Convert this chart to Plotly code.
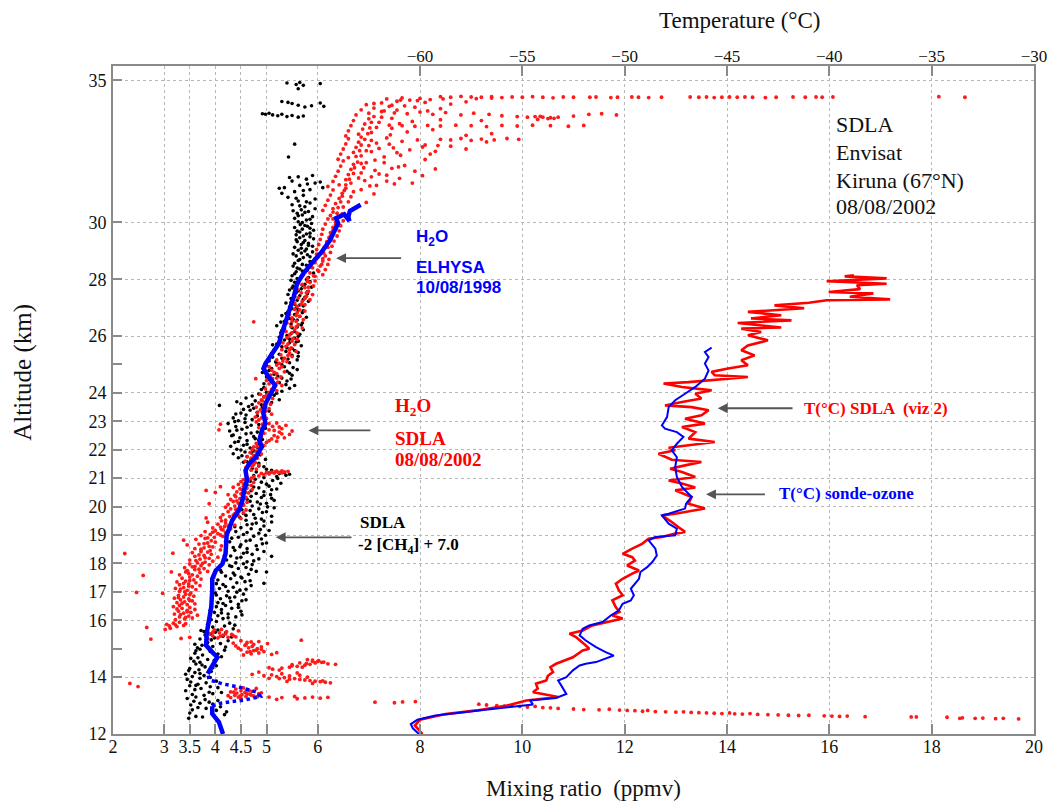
import plotly.graph_objects as go

# ---------------- data ----------------
# ELHYSA H2O 10/08/1998 : (altitude km, mixing ratio ppmv)
elhysa = [(12.0,4.15),(12.42,4.07),(12.71,3.94),(12.98,3.94),(13.07,4.07),(13.14,4.33),(13.2,4.59),(13.32,4.88),
          (13.47,4.82),(13.65,4.46),(13.77,4.13),(13.91,3.88),(14.12,3.85),(14.41,3.94),(14.70,4.04),(14.88,3.94),
          (15.12,3.82),(15.53,3.83),(16.0,3.88),(16.46,3.92),(17.05,3.94),(17.46,3.94),(17.75,4.01),(17.99,4.14),
          (18.34,4.20),(18.69,4.21),(19.0,4.22),(19.22,4.27),(19.52,4.33),(19.87,4.46),(20.22,4.53),(20.57,4.56),
          (20.93,4.62),(21.27,4.59),(21.5,4.66),(21.74,4.79),(22.1,4.91),(22.33,4.86),(22.68,4.91),(22.92,4.98),
          (23.27,4.94),(23.62,4.98),(23.97,5.07),(24.27,5.17),(24.56,5.04),(24.86,4.94),(25.03,4.98),(25.38,5.11),
          (25.73,5.24),(26.09,5.30),(26.49,5.37),(26.91,5.46),(27.37,5.53),(27.85,5.60),(28.2,5.72),(28.55,5.88),
          (28.96,6.08),(29.37,6.24),(29.72,6.34),(29.96,6.40),(30.15,6.36),(30.28,6.52),(30.05,6.62),(30.2,6.60),
          (30.4,6.63),(30.55,6.75),(30.62,6.84)]
# the profile is drawn with sparse dots between these two indices (13.0-13.95 km)
elhysa_gap = (3, 12)

# Temperature sonde-ozone : (altitude km, T degC)
t_sonde = [(12.0,-60.05),(12.2,-60.35),(12.35,-60.45),(12.5,-60.13),(12.65,-59.25),(12.83,-57.23),(12.92,-55.93),
           (13.04,-54.48),(13.18,-54.63),(13.27,-53.35),(13.41,-52.85),(13.71,-53.1),(13.88,-53.25),(14.0,-52.85),
           (14.24,-52.53),(14.41,-52.2),(14.47,-51.9),(14.53,-51.4),(14.76,-50.53),(14.88,-50.93),(15.06,-51.4),
           (15.29,-51.9),(15.47,-52.2),(15.70,-52.05),(15.82,-51.73),(15.94,-51.08),(16.17,-50.68),(16.35,-50.28),
           (16.58,-50.1),(16.70,-49.7),(16.88,-49.55),(17.11,-49.7),(17.46,-49.3),(17.70,-49.23),(17.87,-48.9),
           (18.05,-48.65),(18.28,-48.43),(18.52,-48.5),(18.81,-48.83),(18.93,-48.5),(18.99,-47.53),(19.22,-47.45),
           (19.40,-47.85),(19.69,-48.18),(19.75,-47.85),(19.93,-47.05),(20.1,-47.0),(20.34,-46.73),(20.69,-47.2),
           (21.04,-47.45),(21.39,-47.53),(21.74,-47.45),(21.98,-47.7),(22.21,-47.45),(22.45,-47.13),(22.62,-47.45),
           (22.74,-48.03),(22.86,-48.18),(23.15,-47.93),(23.50,-47.85),(23.74,-47.53),(23.97,-47.05),(24.21,-46.55),
           (24.50,-46.08),(24.79,-45.9),(25.03,-46.08),(25.26,-45.9),(25.44,-46.08),(25.59,-45.75)]

# Temperature SDLA (viz 2) : (altitude km, T degC)
t_sdla = [(12.0,-59.88),(12.3,-60.25),(12.5,-60.0),(12.7,-58.75),(12.83,-57.23),(13.0,-55.75),(13.18,-54.8),
          (13.30,-53.25),(13.41,-54.0),(13.47,-54.48),(13.6,-54.25),(13.77,-54.33),(13.88,-53.83),(14.05,-53.75),
          (14.18,-53.5),(14.35,-53.63),(14.47,-53.35),(14.59,-52.95),(14.70,-52.53),(14.94,-52.05),(15.0,-51.73),
          (15.17,-51.98),(15.41,-52.38),(15.53,-52.7),(15.64,-52.05),(15.82,-51.58),(15.94,-50.75),(16.06,-50.1),
          (16.17,-50.6),(16.3,-50.25),(16.46,-50.43),(16.70,-50.6),(16.88,-50.1),(17.05,-50.28),(17.29,-50.43),
          (17.46,-50.1),(17.64,-49.63),(17.75,-49.3),(17.93,-49.88),(18.1,-49.5),(18.22,-49.63),(18.34,-50.1),
          (18.52,-49.63),(18.69,-49.15),(18.87,-48.83),(18.93,-48.18),(19.05,-47.53),(19.11,-47.05),(19.28,-47.38),
          (19.46,-47.7),(19.69,-48.18),(19.75,-47.53),(19.93,-46.08),(20.10,-46.88),(20.34,-46.73),(20.57,-47.53),
          (20.67,-46.55),(20.81,-47.2),(20.92,-47.85),(21.04,-46.55),(21.22,-47.2),(21.33,-47.78),(21.45,-47.05),
          (21.57,-46.25),(21.65,-47.7),(21.86,-48.35),(21.98,-47.53),(22.07,-47.85),(22.27,-45.6),(22.39,-46.88),
          (22.62,-46.55),(22.80,-47.2),(22.92,-46.08),(23.09,-47.05),(23.21,-46.25),(23.39,-45.9),(23.50,-46.73),
          (23.56,-48.03),(23.68,-47.2),(23.80,-46.25),(23.97,-46.55),(24.09,-45.75),(24.21,-47.2),(24.33,-48.1),
          (24.38,-46.88),(24.44,-45.9),(24.56,-43.98),(24.62,-45.6),(24.74,-45.75),(24.86,-44.95),(24.97,-43.98),
          (25.15,-44.3),(25.32,-43.65),(25.50,-44.3),(25.67,-43.98),(25.85,-43.0),(26.03,-43.98),(26.14,-43.33),
          (26.26,-44.3),(26.3,-42.35),(26.38,-43.5),(26.46,-44.48),(26.55,-41.85),(26.62,-43.83),(26.73,-42.35),
          (26.85,-43.98),(26.98,-41.23),(27.08,-42.68),(27.17,-41.0),(27.26,-40.13),(27.29,-37.03),(27.38,-39.0),
          (27.5,-37.85),(27.55,-40.03),(27.65,-38.5),(27.79,-38.65),(27.84,-37.2),(27.93,-40.13),(28.03,-37.2),
          (28.1,-39.25),(28.14,-38.8)]

# SDLA -2[CH4]+7.0 : (altitude km, ppmv)
ch4_pts = [
 (12.55,3.48),(12.62,3.62),(12.7,3.95),(12.78,4.22),(12.85,3.55),(12.9,3.82),(12.96,4.1),(12.68,4.18),
 (13.02,3.52),(13.08,3.7),(13.12,3.88),(13.18,4.05),(13.25,3.45),(13.3,3.62),(13.36,3.78),(13.42,3.95),(13.46,4.12),(13.15,3.58),
 (13.52,3.42),(13.56,3.6),(13.6,3.72),(13.66,3.9),(13.7,3.5),(13.75,3.66),(13.8,3.82),(13.86,4.02),(13.92,3.45),(13.96,3.7),
 (14.02,3.55),(14.06,3.78),(14.1,3.42),(14.16,3.6),(14.2,3.92),(14.26,3.68),(14.3,3.5),(14.36,3.8),(14.4,4.02),(14.46,3.62),
 (14.52,3.7),(14.56,3.58),(14.62,3.85),(14.68,3.66),(14.72,4.12),(14.78,3.75),(14.84,3.6),(14.9,3.9),(14.95,4.18),(14.98,3.7),
 (15.03,3.65),(15.08,3.95),(15.12,3.74),(15.18,4.1),(15.22,3.85),(15.28,4.25),(15.34,3.7),(15.38,3.98),(15.44,4.15),(15.48,3.8),
 (15.52,3.9),(15.56,4.2),(15.6,3.78),(15.66,4.05),(15.7,4.35),(15.76,3.95),(15.8,4.18),(15.86,3.85),(15.9,4.28),(15.96,4.02),
 (16.02,3.92),(16.06,4.15),(16.12,4.4),(16.16,4.05),(16.22,4.25),(16.28,3.98),(16.32,4.5),(16.38,4.12),(16.42,4.32),(16.48,4.02),
 (16.52,4.2),(16.56,4.45),(16.62,4.05),(16.66,4.3),(16.72,4.6),(16.76,4.1),(16.82,4.38),(16.86,4.22),(16.92,4.55),(16.96,4.0),
 (17.02,4.25),(17.06,4.48),(17.12,4.08),(17.16,4.35),(17.22,4.7),(17.26,4.15),(17.32,4.42),(17.36,4.58),(17.42,4.05),(17.46,4.3),(17.3,4.95),
 (17.52,4.5),(17.56,4.2),(17.62,4.65),(17.66,4.35),(17.72,4.8),(17.76,4.1),(17.82,4.45),(17.86,4.6),(17.92,4.28),(17.96,4.72),(17.7,5.0),
 (18.02,4.4),(18.06,4.62),(18.12,4.22),(18.16,4.85),(18.22,4.5),(18.26,4.3),(18.32,4.72),(18.36,4.55),(18.42,4.95),(18.46,4.38),(18.25,5.1),
 (18.52,4.62),(18.56,4.35),(18.62,4.8),(18.66,4.5),(18.72,5.0),(18.76,4.28),(18.82,4.68),(18.86,4.9),(18.92,4.45),(18.96,4.75),
 (19.02,4.55),(19.06,4.85),(19.12,4.4),(19.16,5.05),(19.22,4.7),(19.26,4.5),(19.32,4.95),(19.36,4.62),(19.42,4.8),(19.46,5.1),
 (19.52,4.6),(19.56,4.9),(19.62,4.48),(19.66,5.1),(19.72,4.75),(19.76,4.55),(19.82,5.0),(19.86,4.68),(19.92,4.85),(19.96,5.15),
 (20.02,4.72),(20.06,4.55),(20.12,5.0),(20.16,4.82),(20.22,5.15),(20.26,4.62),(20.32,4.9),(20.36,4.7),(20.42,5.08),(20.46,4.8),
 (20.52,4.95),(20.56,4.7),(20.62,5.2),(20.66,4.85),(20.72,5.05),(20.76,4.62),(20.82,5.28),(20.86,4.9),(20.92,5.12),(20.96,4.78),
 (21.02,4.95),(21.06,5.2),(21.1,5.38),(21.14,5.45),(21.16,5.25),(21.18,5.05),(21.22,4.8),(21.28,5.1),(21.34,4.72),(21.4,4.95),(21.46,4.65),
 (21.52,4.85),(21.56,4.55),(21.62,4.7),(21.66,4.98),(21.72,4.45),(21.76,4.62),(21.82,4.88),(21.86,4.35),(21.92,4.58),(21.96,4.75),
 (22.02,4.42),(22.06,4.68),(22.12,4.3),(22.16,4.55),(22.22,4.85),(22.26,4.38),(22.32,4.62),(22.36,4.92),(22.42,4.48),(22.46,4.75),
 (22.52,4.35),(22.56,4.6),(22.62,4.82),(22.66,4.28),(22.72,4.52),(22.76,4.98),(22.82,4.4),(22.86,4.7),(22.92,4.25),(22.96,4.58),
 (23.02,4.45),(23.06,4.72),(23.12,4.35),(23.16,4.95),(23.22,4.6),(23.26,4.4),(23.32,4.82),(23.36,5.05),(23.42,4.55),(23.46,4.75),(23.56,4.08),
 (23.52,4.65),(23.58,4.9),(23.62,4.5),(23.66,5.1),(23.72,4.78),(23.76,5.25),(23.82,4.6),(23.86,4.95),(23.92,5.15),(23.96,4.85),
 (24.02,5.0),(24.06,5.3),(24.12,4.9),(24.16,5.45),(24.22,5.15),(24.26,5.55),(24.32,4.95),(24.36,5.25),(24.42,5.4),(24.46,5.05),
 (24.52,5.3),(24.56,5.0),(24.62,5.5),(24.66,5.15),(24.72,4.92),(24.76,5.4),(24.82,5.6),(24.86,5.1),(24.92,5.35),(24.96,5.0),
 (25.02,5.2),(25.06,5.45),(25.12,5.05),(25.16,5.6),(25.22,5.3),(25.26,5.12),(25.32,5.5),(25.36,5.25),(25.42,5.62),(25.46,5.38),
 (25.52,5.15),(25.56,5.5),(25.62,5.3),(25.66,5.68),(25.72,5.2),(25.76,5.45),(25.82,5.62),(25.86,5.35),(25.92,5.55),(25.96,5.25),
 (26.02,5.4),(26.06,5.65),(26.12,5.28),(26.16,5.55),(26.22,5.72),(26.26,5.35),(26.32,5.6),(26.36,5.2),(26.42,5.48),(26.46,5.7),
 (26.52,5.35),(26.56,5.6),(26.62,5.45),(26.66,5.78),(26.72,5.3),(26.76,5.55),(26.82,5.7),(26.86,5.42),(26.92,5.62),(26.96,5.5),
 (27.02,5.45),(27.06,5.72),(27.12,5.55),(27.16,5.38),(27.22,5.82),(27.26,5.6),(27.32,5.48),(27.36,5.75),(27.42,5.65),(27.46,5.42),
 (27.52,5.58),(27.56,5.8),(27.62,5.45),(27.66,5.68),(27.72,5.88),(27.76,5.52),(27.82,5.75),(27.86,5.62),(27.92,5.85),(27.96,5.48),
 (28.02,5.6),(28.06,5.82),(28.12,5.5),(28.16,5.72),(28.22,5.92),(28.26,5.58),(28.32,5.8),(28.36,5.65),(28.42,5.88),(28.46,5.52),
 (28.52,5.7),(28.56,5.55),(28.62,5.85),(28.66,5.62),(28.72,5.95),(28.76,5.72),(28.82,5.58),(28.86,5.8),(28.92,5.68),(28.96,5.9),
 (29.02,5.62),(29.06,5.78),(29.12,5.55),(29.16,5.9),(29.22,5.68),(29.26,5.82),(29.32,5.6),(29.36,5.75),(29.42,5.92),(29.46,5.65),
 (29.52,5.72),(29.56,5.58),(29.62,5.85),(29.66,5.65),(29.72,5.92),(29.76,5.7),(29.82,5.55),(29.86,5.8),(29.92,5.66),(29.96,5.88),
 (30.02,5.62),(30.08,5.78),(30.14,5.55),(30.2,5.9),(30.26,5.7),(30.32,5.6),(30.38,5.82),(30.44,5.68),(30.48,5.95),
 (30.55,5.75),(30.62,5.5),(30.68,5.85),(30.75,5.62),(30.82,5.95),(30.88,5.42),(30.95,5.72),
 (31.02,5.3),(31.08,5.55),(31.15,5.85),(31.22,6.1),(31.3,5.65),(31.38,5.95),(31.45,5.5),(31.52,5.78),(31.6,5.62),(31.65,5.9),
 (31.2,5.25),(31.22,5.35),(32.3,5.43),(32.75,5.55),
 (33.82,4.92),(33.8,4.98),(33.84,5.05),(33.78,5.12),(33.75,5.22),(33.8,5.3),(33.72,5.4),(33.76,5.5),(33.7,5.62),(33.74,5.72),
 (34.25,5.3),(34.22,5.42),(34.18,5.5),(34.12,5.62),(34.06,5.75),(34.1,5.88),(34.2,6.05),(34.08,6.12),
 (34.9,5.4),(34.85,5.58),(34.92,5.65),(34.82,5.72),(34.7,5.62),(34.88,6.05),
 (12.6,3.75),(12.74,3.5),(12.83,4.02),(12.93,3.66),(13.05,3.95),(13.21,3.8),(13.39,3.55),(13.47,3.88),(13.63,4.05),
 (13.71,3.62),(13.83,3.52),(13.99,3.9),(14.13,3.7),(14.23,3.48),(14.33,3.95),(14.43,3.74),(14.59,3.98),(14.66,3.52),
 (14.81,4.05),(14.93,3.62),(15.06,4.2),(15.16,3.6),(15.31,3.92),(15.41,4.32),(15.58,4.0),(15.64,3.72),(15.83,4.38),
 (15.93,3.88),(16.09,4.25),(16.19,4.52),(16.26,4.12),(16.35,3.9),(16.45,4.45),(16.59,4.15),(16.69,4.52),(16.79,4.28),
 (16.89,4.02),(16.99,4.42),(17.09,4.6),(17.19,4.2),(17.29,4.02),(17.39,4.68),(17.49,4.52),(17.59,4.38),(17.69,4.12),
 (17.79,4.7),(17.89,4.32),(17.99,4.55),(18.09,4.75),(18.19,4.42),(18.29,4.18),(18.39,4.62),(18.49,4.82),(18.59,4.48),
 (18.69,4.92),(18.79,4.6),(18.89,4.32),(18.99,4.98),(19.09,4.62),(19.19,4.88),(19.29,4.38),(19.39,4.72),(19.49,4.95),
 (19.59,4.78),(19.69,4.6),(19.79,4.92),(19.89,4.52),(19.99,5.02),(20.09,4.88),(20.19,4.68),(20.29,5.1),(20.39,4.95),
 (20.49,4.58),(20.59,5.1),(20.69,4.75),(20.79,5.0),(20.89,4.68),(20.99,5.22),(21.09,4.75),(21.19,5.35),(21.31,5.0),
 (21.43,4.85),(21.58,4.62),(21.69,4.8),(21.79,4.52),(21.89,4.7),(21.99,4.5),(22.09,4.82),(22.19,4.62),(22.29,4.45),
 (22.39,4.78),(22.49,4.32),(22.59,4.7),(22.69,4.42),(22.79,4.62),(22.89,4.85),(22.99,4.38),(23.09,4.58),(23.19,4.82),
 (23.29,4.5),(23.39,4.68),(23.49,4.92),(23.59,4.72),(23.69,4.42),(23.79,5.02),(23.89,4.72),(23.99,5.2),(24.09,5.12),
 (24.19,4.95),(24.29,5.38),(24.39,5.1),(24.49,5.48),(24.59,5.22),(24.69,5.45),(24.79,5.05),(24.89,5.52),(24.99,5.3),
 (25.09,5.18),(25.19,5.42),(25.29,5.62),(25.39,5.1),(25.49,5.55),(25.59,5.4),(25.69,5.12),(25.79,5.58),(25.89,5.45),
 (25.99,5.62),(26.09,5.48),(26.19,5.3),(26.29,5.5),(26.39,5.68),(26.49,5.28),(26.59,5.52),(26.69,5.65),(26.79,5.38),
 (26.89,5.72),(26.99,5.58),(27.09,5.65),(27.19,5.48),(27.29,5.72),(27.39,5.55),(27.49,5.8),(27.59,5.62),(27.69,5.5),
 (27.79,5.7),(27.89,5.55),(27.99,5.78),(28.09,5.68),(28.19,5.55),(28.29,5.7),(28.39,5.6),(28.49,5.78),(28.59,5.92),
 (28.69,5.65),(28.79,5.85),(28.89,5.52),(28.99,5.75),(29.09,5.68),(29.19,5.82),(29.29,5.72),(29.39,5.58),(29.49,5.85),
 (29.59,5.78),(29.69,5.6),(29.79,5.85),(29.89,5.75),(29.99,5.7),(30.11,5.85),(30.23,5.62),(30.35,5.75),(30.41,5.52),
 (30.58,5.65),(30.72,5.78),(30.85,5.58),(31.12,5.72),(31.35,5.8),(31.58,5.45),(31.42,6.05)]

# SDLA H2O 08/08/2002 : (altitude km, ppmv)
h2o_pts = [
 (13.05,9.15),(13.02,9.3),(13.0,9.5),(12.98,9.65),(13.0,9.8),(12.97,9.95),(12.95,10.1),(12.97,10.25),(12.93,10.4),
 (12.92,10.55),(12.9,10.7),(12.88,11.0),(12.86,11.2),(12.85,11.5),(12.87,11.7),(12.84,11.9),(12.83,12.05),(12.82,12.2),
 (12.8,12.35),(12.83,12.45),(12.79,12.6),(12.78,12.8),(12.77,13.0),(12.78,13.15),(12.76,13.3),(12.75,13.45),(12.74,13.6),
 (12.73,13.75),(12.72,13.9),(12.74,14.05),(12.71,14.15),(12.7,14.3),(12.72,14.45),(12.69,14.6),(12.68,14.8),(12.67,15.0),
 (12.66,15.2),(12.65,15.4),(12.66,15.6),(12.64,15.9),(12.63,16.05),(12.62,16.2),(12.63,16.35),(12.61,16.7),(12.6,17.6),
 (12.6,17.7),(12.59,18.3),(12.55,18.55),(12.57,18.6),(12.55,18.85),(12.56,19.0),(12.54,19.25),(12.55,19.4),(12.53,19.7),
 (13.12,7.12),(13.1,7.5),(13.13,7.66),(13.14,7.91),(13.78,2.33),(13.67,2.49),
 (13.28,4.3),(13.3,4.45),(13.32,4.6),(13.34,4.75),(13.36,4.38),(13.38,4.52),(13.4,4.68),(13.42,4.85),(13.44,4.42),(13.46,4.58),
 (13.48,4.3),(13.5,4.72),(13.52,4.5),(13.55,4.62),(13.58,4.4),(13.6,4.8),(13.62,4.55),(13.35,4.25),(13.25,4.5),(13.45,4.9),
 (13.3,5.05),(13.28,5.3),(13.32,5.55),(13.27,5.75),(13.3,5.9),(13.26,6.05),(13.29,6.2),
 (14.1,4.72),(14.05,4.95),(14.08,5.1),(14.02,5.2),(13.98,5.35),(14.04,5.45),(13.95,5.55),(13.92,5.65),(13.9,5.75),(13.88,5.85),
 (13.86,5.95),(13.84,6.05),(13.82,6.15),(13.8,6.25),(14.12,5.3),(14.15,5.6),(13.96,5.05),(14.0,5.8),(13.85,5.4),(13.78,5.9),(14.18,4.85),
 (14.28,5.12),(14.32,5.3),(14.35,5.45),(14.38,5.6),(14.42,5.75),(14.45,5.85),(14.5,5.95),(14.55,6.0),(14.58,6.02),(14.52,6.08),
 (14.47,6.2),(14.45,6.35),(14.4,5.5),(14.35,5.7),(14.6,5.9),(14.25,5.25),(14.5,5.65),(14.62,5.8),
 (14.78,4.55),(14.82,4.7),(14.85,4.85),(14.88,4.62),(14.9,4.95),(14.93,4.75),(14.96,4.5),(15.0,4.82),(15.03,4.65),(15.06,4.9),
 (15.1,4.4),(15.12,4.58),(15.15,4.75),(15.18,5.02),(15.2,4.35),(15.22,4.62),(15.25,4.85),(15.28,4.5),(14.8,5.1),(15.3,5.68),(14.86,5.2),
 (15.36,3.85),(15.38,4.05),(15.4,4.25),(15.42,4.4),(15.45,3.95),(15.48,4.15),(15.5,4.32),(15.53,3.88),(15.56,4.08),(15.6,4.22),
 (15.63,4.45),(15.66,3.98),(15.68,4.12),(15.4,3.5),(15.36,3.33),(15.34,2.74),
 (15.68,3.02),(15.72,3.12),(15.75,2.66),(15.78,3.25),(15.82,3.38),(15.86,3.05),(15.9,3.18),(15.93,3.3),(15.88,3.42),
 (16.02,3.22),(16.05,3.4),(16.08,3.55),(16.12,3.3),(16.15,3.48),(16.18,3.65),(16.22,3.2),(16.25,3.38),(16.28,3.52),(16.32,3.28),
 (16.35,3.45),(16.38,3.6),(16.42,3.35),(16.45,3.5),(16.48,3.18),
 (16.52,3.3),(16.55,3.45),(16.58,3.6),(16.62,3.25),(16.65,3.4),(16.68,3.55),(16.72,3.32),(16.75,3.48),(16.78,3.2),(16.82,3.38),
 (16.85,3.58),(16.88,3.28),(16.92,3.42),(16.95,2.97),(16.98,2.46),(16.96,3.52),
 (17.02,3.3),(17.05,3.45),(17.08,3.62),(17.12,3.22),(17.15,3.38),(17.18,3.55),(17.22,3.7),(17.25,3.3),(17.28,3.48),(17.32,3.62),
 (17.35,3.25),(17.38,3.42),(17.42,3.58),(17.45,3.72),(17.48,3.35),
 (17.52,3.5),(17.55,3.65),(17.58,2.59),(17.6,3.3),(17.64,3.48),(17.68,3.7),(17.7,3.14),(17.72,3.85),(17.75,3.45),(17.78,3.6),
 (17.82,3.78),(17.85,3.4),(17.88,3.55),(17.92,3.72),(17.95,3.88),(17.98,3.5),
 (18.02,3.65),(18.05,3.8),(18.08,3.95),(18.12,3.5),(18.15,3.7),(18.18,3.88),(18.22,4.05),(18.25,3.6),(18.28,3.78),(18.32,3.92),
 (18.35,2.23),(18.36,3.17),(18.38,3.55),(18.42,3.72),(18.45,3.9),(18.48,4.1),
 (18.52,3.6),(18.55,3.78),(18.58,3.95),(18.62,4.12),(18.65,3.45),(18.68,3.68),(18.72,3.85),(18.75,4.0),(18.78,4.2),(18.82,3.38),
 (18.85,3.62),(18.88,3.8),(18.92,3.98),(18.95,4.15),(18.98,3.72),
 (19.02,3.9),(19.05,4.05),(19.08,4.2),(19.12,3.8),(19.15,4.0),(19.18,4.15),(19.22,4.3),(19.25,3.95),(19.28,4.1),(19.32,4.25),
 (19.35,4.38),(19.38,4.05),(19.42,4.2),(19.45,3.85),(19.48,4.32),
 (19.52,4.2),(19.55,4.35),(19.58,4.5),(19.6,3.82),(19.62,4.1),(19.65,4.28),(19.68,4.45),(19.72,4.15),(19.75,4.38),(19.78,4.55),
 (19.82,4.25),(19.85,4.42),(19.88,4.6),(19.92,4.3),(19.95,4.48),(19.98,4.2),
 (20.02,4.38),(20.05,4.55),(20.08,4.25),(20.1,3.88),(20.12,4.45),(20.15,4.62),(20.18,4.35),(20.22,4.52),(20.25,4.3),(20.28,4.48),
 (20.32,4.6),(20.35,4.4),(20.38,4.55),(20.42,4.25),(20.45,4.5),(20.48,4.65),
 (20.5,4.0),(20.52,4.42),(20.55,4.58),(20.57,3.82),(20.6,4.72),(20.62,4.48),(20.65,4.62),(20.68,4.35),(20.7,4.1),(20.72,4.55),
 (20.75,4.7),(20.78,4.45),(20.82,4.6),(20.85,4.75),(20.88,4.5),(20.92,4.65),(20.95,4.55),
 (21.02,4.62),(21.05,4.75),(21.08,4.85),(21.12,4.95),(21.15,5.05),(21.18,5.15),(21.2,5.25),(21.22,5.35),(21.24,5.42),(21.26,5.3),
 (21.23,5.18),(21.2,5.0),(21.17,4.9),(21.28,4.7),(21.32,4.8),
 (21.38,4.6),(21.42,4.72),(21.46,4.85),(21.5,4.65),(21.55,4.78),(21.6,4.58),(21.65,4.7),(21.7,4.82),(21.75,4.62),(21.8,4.75),
 (21.85,4.9),(21.9,4.68),(21.95,4.8),(22.0,4.72),(22.05,4.88),(22.1,4.75),(22.15,4.95),
 (22.22,4.8),(22.26,5.0),(22.3,5.2),(22.34,4.85),(22.38,5.1),(22.42,5.35),(22.46,4.9),(22.5,5.15),(22.54,5.45),(22.58,4.95),
 (22.62,5.25),(22.66,5.5),(22.7,5.05),(22.74,5.3),(22.78,4.85),(22.82,5.12),(22.86,5.38),(22.9,4.92),(22.94,5.2),(22.98,4.8),
 (22.9,4.1),(22.7,4.07),
 (23.05,4.85),(23.1,5.0),(23.15,4.78),(23.2,4.95),(23.25,5.1),(23.3,4.82),(23.35,4.98),(23.4,4.88),(23.45,5.05),(23.5,4.8),
 (23.55,4.95),(23.6,5.08),(23.65,4.85),(23.7,5.0),(23.75,4.9),(23.8,5.12),(23.85,4.95),(23.9,5.05),(23.95,4.88),
 (24.02,5.05),(24.08,5.2),(24.14,4.98),(24.2,5.15),(24.26,5.3),(24.32,5.05),(24.38,5.22),(24.44,5.0),(24.5,5.12),(24.56,5.28),
 (24.62,5.08),(24.68,5.2),(24.74,5.35),(24.8,5.1),(24.86,5.25),(24.92,5.05),(24.98,5.2),(24.5,4.79),
 (25.04,5.25),(25.1,5.4),(25.16,5.2),(25.22,5.35),(25.28,5.5),(25.34,5.28),(25.4,5.45),(25.46,5.58),(25.52,5.3),(25.58,5.48),
 (25.64,5.38),(25.7,5.55),(25.76,5.32),(25.82,5.5),(25.88,5.6),(25.94,5.4),
 (26.04,5.45),(26.1,5.6),(26.16,5.38),(26.22,5.55),(26.28,5.7),(26.34,5.48),(26.4,5.62),(26.46,5.4),(26.5,4.75),(26.52,5.58),
 (26.58,5.72),(26.64,5.5),(26.7,5.65),(26.76,5.45),(26.82,5.6),(26.88,5.75),(26.94,5.55),
 (27.04,5.6),(27.1,5.75),(27.16,5.55),(27.22,5.7),(27.28,5.85),(27.34,5.62),(27.4,5.78),(27.46,5.9),(27.52,5.68),(27.58,5.82),
 (27.64,5.6),(27.7,5.75),(27.76,5.92),(27.82,5.7),(27.88,5.85),(27.94,5.95),
 (28.04,5.8),(28.1,5.95),(28.16,6.1),(28.22,5.85),(28.28,6.02),(28.34,6.15),(28.4,5.9),(28.46,6.05),(28.52,6.2),(28.58,5.95),
 (28.64,6.1),(28.7,6.22),(28.76,6.0),(28.82,6.15),(28.88,5.98),(28.94,6.25),
 (29.04,5.98),(29.1,6.12),(29.16,6.28),(29.22,6.02),(29.28,6.18),(29.34,6.32),(29.4,6.05),(29.46,6.22),(29.52,6.38),(29.58,6.08),
 (29.64,6.25),(29.7,6.42),(29.76,6.1),(29.82,6.3),(29.88,6.45),(29.94,6.15),(30.0,6.35),(30.06,6.5),(30.12,6.2),(30.18,6.4),
 (30.24,6.25),(30.3,6.48),(30.36,6.3),
 (30.42,6.1),(30.48,6.3),(30.54,6.5),(30.6,6.15),(30.66,6.35),(30.72,6.6),(30.78,6.2),(30.84,6.42),(30.9,6.65),(30.96,6.25),
 (31.02,6.48),(31.08,6.7),(31.14,6.3),(31.2,6.55),(30.7,6.95),(31.0,7.1),
 (31.26,6.2),(31.32,6.42),(31.38,6.65),(31.44,6.3),(31.5,6.55),(31.56,6.8),(31.62,6.35),(31.68,6.6),(31.74,6.85),(31.8,6.4),
 (31.86,6.65),(31.92,6.9),(31.98,6.45),(32.04,6.7),(32.1,6.95),(32.16,6.5),
 (31.3,7.15),(31.45,7.35),(31.55,7.6),(31.7,7.2),(31.8,7.9),(31.9,7.45),(32.0,7.7),(31.6,7.05),(31.35,7.5),(32.1,7.3),
 (32.22,6.4),(32.28,6.6),(32.34,6.85),(32.4,6.45),(32.46,6.7),(32.52,6.95),(32.58,6.5),(32.64,6.75),(32.7,7.0),(32.76,6.55),
 (32.82,6.8),(32.88,7.05),(32.94,6.6),(33.0,6.85),
 (32.3,7.3),(32.45,7.55),(32.55,7.8),(32.65,8.05),(32.4,8.2),(32.75,7.4),(32.85,7.65),(32.9,7.95),(32.6,7.2),(32.5,8.3),
 (32.92,8.4),(32.9,8.6),(32.95,8.8),(32.88,9.0),(32.93,9.2),(32.9,9.45),(32.95,9.7),(32.92,9.93),
 (32.72,8.1),(32.7,8.35),(32.68,8.6),
 (33.04,6.55),(33.1,6.8),(33.16,7.05),(33.22,6.6),(33.28,6.88),(33.34,7.15),(33.4,6.65),(33.46,6.92),(33.52,7.2),(33.58,6.7),
 (33.64,7.0),(33.7,7.25),
 (33.42,7.4),(33.4,7.65),(33.38,7.9),(33.41,8.15),(33.39,8.4),(33.42,8.7),(33.4,9.0),(33.37,9.3),(33.41,9.6),(33.39,9.9),
 (33.42,10.2),(33.4,10.55),(33.38,10.9),(33.41,11.2),
 (33.85,7.5),(33.82,7.75),(33.88,8.0),(33.8,8.25),(33.86,8.5),(33.78,8.8),(33.84,9.05),(33.8,9.35),(33.75,9.6),(33.72,9.9),
 (33.7,10.1),(33.72,10.25),(33.7,10.4),(33.68,10.55),(33.7,10.7),(33.74,11.0),(33.8,11.3),(33.82,11.55),(33.78,11.84),
 (33.78,6.75),(33.84,7.0),(33.9,7.25),(33.96,6.85),(34.02,7.1),(34.08,7.4),(34.14,6.95),(34.2,7.25),(34.26,7.55),(34.3,7.8),
 (34.34,7.35),(34.38,7.65),(34.36,8.0),(34.32,8.2),(34.28,7.95),(34.22,8.1),(34.1,7.7),(33.95,7.55),(34.05,7.9),(34.18,7.1),
 (34.42,8.4),(34.4,8.6),(34.43,8.8),(34.41,9.0),(34.4,9.2),(34.42,9.4),(34.39,9.6),(34.41,9.8),(34.4,10.0),(34.42,10.2),
 (34.4,10.4),(34.38,10.6),(34.41,10.8),(34.4,11.0),(34.4,11.32),(34.41,11.44),(34.39,11.73),(34.4,11.86),(34.41,12.14),
 (34.4,12.27),(34.39,12.47),(34.4,12.72),(34.41,13.28),(34.4,13.45),(34.41,13.6),(34.39,13.75),(34.4,13.9),(34.41,14.05),
 (34.4,14.2),(34.41,14.35),(34.4,14.5),(34.39,14.75),(34.4,14.96),(34.41,15.29),(34.4,15.53),(34.41,15.74),(34.4,15.86),
 (34.41,16.07),(34.42,18.14),(34.4,18.65),
 (13.33,4.48),(13.41,4.62),(13.37,4.7),(13.47,4.36),(13.53,4.66),(13.31,4.82),(13.22,5.2),(13.24,5.6),(13.95,5.25),
 (14.07,5.65),(13.87,6.1),(13.93,5.45),(14.44,5.5),(14.48,5.78),(14.53,6.12),(14.56,5.9),(14.33,5.05),(14.9,4.68),
 (14.98,4.9),(15.08,4.72),(15.14,4.6),(15.02,4.45),(14.95,4.8),(15.24,4.7),(15.44,4.1),(15.52,4.2),(15.58,3.95),
 (15.46,4.35),(15.8,3.1),(15.84,3.22),(16.1,3.42),(16.2,3.32),(16.3,3.45),(16.4,3.25),(16.6,3.35),(16.7,3.5),(16.8,3.28),
 (16.9,3.5),(17.0,3.4),(17.1,3.32),(17.2,3.48),(17.3,3.38),(17.4,3.5),(17.6,3.55),(17.7,3.42),(17.8,3.68),(17.9,3.6),
 (18.0,3.75),(18.1,3.62),(18.2,3.8),(18.3,3.68),(18.4,3.85),(18.5,3.72),(18.6,3.88),(18.7,3.78),(18.8,3.92),(18.9,3.85),
 (19.0,4.1),(19.1,3.95),(19.2,4.12),(19.3,4.18),(19.4,4.3),(19.5,4.12),(19.7,4.35),(19.9,4.4),(20.2,4.42),(20.4,4.38),
 (20.6,4.52),(20.8,4.55),(21.0,4.7),(21.21,5.1),(21.19,5.3),(21.25,5.2),
 (21.48,4.75),(21.7,4.7),(21.92,4.85),(22.12,4.82),(22.32,5.05),(22.44,5.22),(22.56,5.3),(22.68,5.15),(22.8,5.25),
 (22.92,5.05),(23.12,4.9),(23.32,4.92),(23.52,4.98),(23.72,4.92),(23.92,5.0),(24.12,5.1),(24.32,5.15),(24.52,5.2),
 (24.72,5.15),(24.92,5.3),(25.12,5.32),(25.32,5.42),(25.52,5.45),(25.72,5.42),(25.92,5.52),(26.12,5.5),(26.32,5.58),
 (26.52,5.5),(26.72,5.58),(26.92,5.65),(27.12,5.68),(27.32,5.75),(27.52,5.78),(27.72,5.82),(27.92,5.8),(28.12,5.92),
 (28.32,6.0),(28.52,6.08),(28.72,6.1),(28.92,6.12),(29.12,6.2),(29.32,6.18),(29.52,6.25),(29.72,6.3),(29.92,6.35),
 (30.12,6.3),(30.32,6.38),(30.52,6.4),(30.72,6.45),(30.92,6.48),(31.12,6.52),(31.32,6.55),(31.52,6.62),(31.72,6.7),
 (31.92,6.72),(32.12,6.78),(32.32,6.75),(32.52,6.82),(32.72,6.85),(32.92,6.92),(33.12,6.98),(33.32,7.02),(33.52,7.05),
 (33.72,7.1),(33.92,7.3),(34.12,7.45),(34.3,7.62),
 (31.15,6.85),(31.28,7.02),(31.47,6.92),(31.66,7.35),(31.83,7.12),(31.95,7.58),(32.07,6.85),(32.19,7.12),(32.36,7.62),
 (32.49,7.05),(32.62,7.48),(32.79,7.15),(32.97,7.35),(33.08,7.42),(33.18,7.75),(33.26,8.25),(33.31,7.45),(33.47,7.6),
 (33.55,7.85),(33.61,8.4),(33.66,7.45),(33.92,8.15),(34.0,8.4),(34.16,8.6),(34.24,8.9),(34.34,8.45),(34.35,9.1),
 (34.37,9.4),(33.58,9.2),(33.62,10.3),(33.65,10.5),(33.66,10.62),(33.73,10.35),(33.06,8.9),(33.12,9.4),(32.83,9.3),
 (32.58,8.9),(32.21,8.1),(31.88,8.3),(31.64,8.05),(31.38,7.85)]

x_ticks = [2, 3, 3.5, 4, 4.5, 5, 6, 8, 10, 12, 14, 16, 18, 20]
x_ticklabels = ["2", "3", "3.5", "4", "4.5", "5", "6", "8", "10", "12", "14", "16", "18", "20"]
t_ticks = [-60, -55, -50, -45, -40, -35, -30]
y_ticks = [12, 14, 16, 17, 18, 19, 20, 21, 22, 23, 24, 26, 28, 30, 35]
y_minor_ticks = [15, 25]

# ---------------- figure ----------------
SERIF = "Liberation Serif"
SANS = "Liberation Sans"

fig = go.Figure()

fig.add_trace(go.Scatter(x=[p[1] for p in ch4_pts], y=[p[0] for p in ch4_pts], mode="markers",
                         marker=dict(color="black", size=3.6), hoverinfo="skip", showlegend=False))
fig.add_trace(go.Scatter(x=[p[1] for p in h2o_pts], y=[p[0] for p in h2o_pts], mode="markers",
                         marker=dict(color="#ff1a1a", size=3.8), hoverinfo="skip", showlegend=False))

g0, g1 = elhysa_gap
for seg, dash in [(elhysa[:g0 + 1], "solid"), (elhysa[g0:g1 + 1], "dot"), (elhysa[g1:], "solid")]:
    fig.add_trace(go.Scatter(x=[p[1] for p in seg], y=[p[0] for p in seg], mode="lines",
                             line=dict(color="#0000ff", width=(4.5 if dash == "solid" else 3.5), dash=dash),
                             hoverinfo="skip", showlegend=False))

fig.add_trace(go.Scatter(x=[p[1] for p in t_sdla], y=[p[0] for p in t_sdla], mode="lines", xaxis="x2",
                         line=dict(color="#ff0000", width=2.6), hoverinfo="skip", showlegend=False))
fig.add_trace(go.Scatter(x=[p[1] for p in t_sonde], y=[p[0] for p in t_sonde], mode="lines", xaxis="x2",
                         line=dict(color="#0000ff", width=2), hoverinfo="skip", showlegend=False))

frame = "#8a8a8a"
grid = "#b8b8b8"
tickfont = dict(family=SERIF, size=18, color="#111")

fig.update_layout(
    width=1059, height=801,
    margin=dict(l=113, r=17, t=66, b=67),
    paper_bgcolor="white", plot_bgcolor="white",
    xaxis=dict(range=[2, 20], tickmode="array", tickvals=x_ticks, ticktext=x_ticklabels,
               ticks="inside", ticklen=10, tickwidth=1.5, tickcolor=frame,
               showline=True, linecolor=frame, linewidth=2,
               showgrid=True, gridcolor=grid, griddash="dot", gridwidth=1,
               zeroline=False, tickfont=tickfont, ticklabelstandoff=-5),
    xaxis2=dict(range=[-75, -30], overlaying="x", side="top", anchor="y",
                tickmode="array", tickvals=t_ticks,
                ticks="inside", ticklen=10, tickwidth=1.5, tickcolor=frame,
                showline=True, linecolor=frame, linewidth=2, showgrid=False, zeroline=False,
                tickfont=dict(family=SERIF, size=17, color="#111"), ticklabelstandoff=-5),
    yaxis=dict(range=[12, 35.5], tickmode="array", tickvals=y_ticks,
               ticks="inside", ticklen=9, tickwidth=1.5, tickcolor=frame,
               showline=True, linecolor=frame, linewidth=2, mirror=True,
               showgrid=True, gridcolor=grid, griddash="dot", gridwidth=1,
               zeroline=False, tickfont=tickfont, ticklabelstandoff=1,
               minor=dict(tickmode="array", tickvals=y_minor_ticks, ticks="inside", ticklen=9,
                          tickwidth=1.5, tickcolor=frame, showgrid=False)),
)

ann = []
def txt(x, y, s, color, size, family, xanchor="left", bold=False):
    ann.append(dict(x=x, y=y, xref="x", yref="y", text=(f"<b>{s}</b>" if bold else s), showarrow=False,
                    xanchor=xanchor, yanchor="middle", font=dict(family=family, size=size, color=color)))

def arrow(x_head, x_tail, y):
    ann.append(dict(x=x_head, y=y, ax=x_tail, ay=y, xref="x", yref="y", axref="x", ayref="y",
                    text="", showarrow=True, arrowhead=2, arrowsize=1.1, arrowwidth=1.8,
                    arrowcolor="#555555", standoff=0))

# info block
for yv, s in [(33.45, "SDLA"), (32.47, "Envisat"), (31.48, "Kiruna (67°N)"), (30.57, "08/08/2002")]:
    txt(16.09, yv, s, "#111", 22, SERIF)

# ELHYSA
txt(7.89, 29.44, "H<sub>2</sub>O", "#0000ff", 17, SANS, bold=True)
txt(7.89, 28.42, "ELHYSA", "#0000ff", 17, SANS, bold=True)
txt(7.89, 27.72, "10/08/1998", "#0000ff", 17, SANS, bold=True)
arrow(6.36, 7.66, 28.74)

# SDLA H2O
txt(7.47, 23.49, "H<sub>2</sub>O", "#ff0000", 19, SERIF, bold=True)
txt(7.47, 22.40, "SDLA", "#ff0000", 19, SERIF, bold=True)
txt(7.47, 21.66, "08/08/2002", "#ff0000", 19, SERIF, bold=True)
arrow(5.82, 7.06, 22.68)

# CH4
txt(7.27, 19.45, "SDLA", "#000000", 17, SERIF, xanchor="center", bold=True)
txt(7.78, 18.60, "-2 [CH<sub>4</sub>] + 7.0", "#000000", 17, SERIF, xanchor="center", bold=True)
arrow(5.18, 6.69, 18.92)

# temperature labels
txt(15.47, 23.46, "T(°C) SDLA  (viz 2)", "#ff0000", 17, SERIF, bold=True)
arrow(13.82, 15.31, 23.46)
txt(14.98, 20.47, "T(°C) sonde-ozone", "#0000ff", 17, SERIF, bold=True)
arrow(13.59, 14.77, 20.43)

# axis titles
ann.append(dict(x=(22 - 113) / 929, y=(734 - 372) / 668, xref="paper", yref="paper", text="Altitude (km)",
                textangle=-90, showarrow=False, xanchor="center", yanchor="middle",
                font=dict(family=SERIF, size=25, color="#111")))
ann.append(dict(x=(588 - 113) / 929, y=(734 - 788) / 668, xref="paper", yref="paper", text="Mixing ratio  (ppmv)",
                showarrow=False, xanchor="center", yanchor="middle",
                font=dict(family=SERIF, size=23, color="#111")))
ann.append(dict(x=(745 - 113) / 929, y=(734 - 20) / 668, xref="paper", yref="paper", text="Temperature (°C)",
                showarrow=False, xanchor="center", yanchor="middle",
                font=dict(family=SERIF, size=23, color="#111")))

fig.update_layout(annotations=ann)

fig.write_html("out.html")
